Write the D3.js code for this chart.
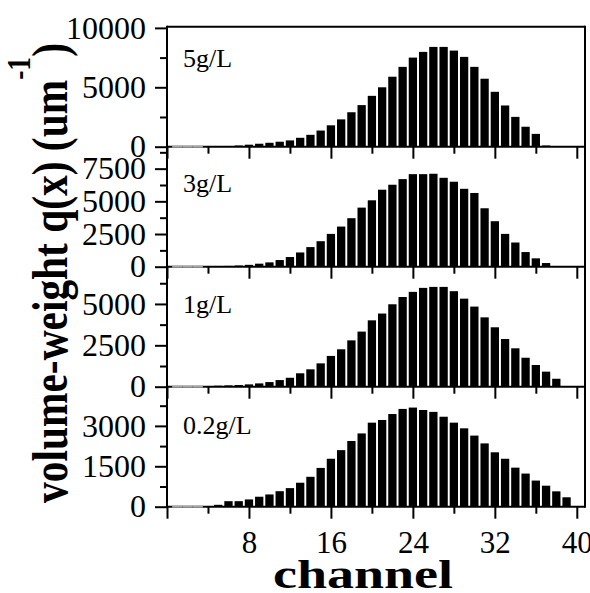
<!DOCTYPE html>
<meta charset="utf-8" />
<script src="https://d3js.org/d3.v7.min.js"></script>
<style>
  body {
    margin: 0;
    background: #fff;
  }
  text {
    font-family: "Liberation Serif", "Times New Roman", serif;
    fill: #000;
  }
</style>
<body>
  <div id="chart"></div>
  <script>
    // channel numbers of the bars (same for every panel)
    var channels = [4, 5, 6, 7, 8, 9, 10, 11, 12, 13, 14, 15, 16, 17, 18, 19, 20,
      21, 22, 23, 24, 25, 26, 27, 28, 29, 30, 31, 32, 33, 34, 35, 36, 37, 38, 39, 40];
    // channels with no data, drawn as an empty gray bar
    var emptyChannels = [1, 2, 3];

    // volume-weight q(x) per channel, one array per concentration
    var conc5 = [20, 50, 60, 100, 170, 250, 330, 420, 530, 750, 1000, 1360, 1800, 2300,
      2900, 3500, 4280, 5000, 5890, 6720, 7500, 7980, 8400, 8400, 8090, 7560, 6720,
      5720, 4620, 3470, 2510, 1680, 1080, 100, 0, 0, 0];
    var conc3 = [20, 40, 60, 90, 140, 230, 330, 510, 740, 1090, 1500, 1950, 2510, 3070,
      3710, 4520, 5080, 5890, 6270, 6700, 7080, 7080, 7110, 6800, 6500, 5960, 5640,
      4470, 3480, 2510, 1850, 1120, 640, 280, 0, 0, 0];
    var conc1 = [30, 60, 80, 100, 140, 200, 280, 400, 540, 810, 1050, 1410, 1860, 2260,
      2800, 3330, 4010, 4420, 4980, 5420, 5730, 5970, 6030, 6030, 5770, 5320, 4840,
      4190, 3590, 2880, 2320, 1750, 1310, 910, 480, 0, 0];
    var conc02 = [10, 70, 205, 205, 270, 370, 455, 575, 690, 890, 1110, 1440, 1780, 2100,
      2440, 2720, 3120, 3220, 3440, 3630, 3680, 3590, 3520, 3340, 3120, 2910, 2640,
      2350, 2020, 1780, 1450, 1230, 970, 780, 570, 350, 0];

    var panelLabels = ["5g/L", "3g/L", "1g/L", "0.2g/L"];
    var panelSeries = [conc5, conc3, conc1, conc02];

    // y axes of the four panels
    var yMax = [10100, 9180, 7250, 4455];
    var yMajor = [[0, 5000, 10000], [0, 2500, 5000, 7500], [0, 2500, 5000], [0, 1500, 3000]];
    var yMinor = [[2500, 7500], [1250, 3750, 6250, 8750], [1250, 3750, 6250], [750, 2250, 3750]];

    // x axis
    var xMax = 40.8;
    var xMajor = [0, 8, 16, 24, 32, 40];
    var xMinor = [4, 12, 20, 28, 36];

    // layout
    var W = 590, H = 593;
    var margin = { top: 26.7, left: 167, right: 5 };
    var panelH = 120;
    var plotW = W - margin.left - margin.right;
    var labelOffset = [40, 45, 46, 47];

    var svg = d3
      .select("#chart")
      .append("svg")
      .attr("width", W)
      .attr("height", H);

    var x = d3.scaleLinear().domain([0, xMax]).range([0, plotW]);
    var step = x(1) - x(0);
    var barW = step * 0.81;

    var root = svg
      .append("g")
      .attr("transform", "translate(" + margin.left + "," + margin.top + ")");

    function styleAxis(g) {
      g.select(".domain").remove();
      g.selectAll(".tick line").attr("stroke", "#000").attr("stroke-width", 2);
      g.selectAll("text")
        .attr("font-family", "Liberation Serif, Times New Roman, serif")
        .attr("font-size", 31)
        .attr("fill", "#000");
    }

    panelSeries.forEach(function (series, i) {
      var g = root
        .append("g")
        .attr("transform", "translate(0," + i * panelH + ")");

      var y = d3.scaleLinear().domain([0, yMax[i]]).range([panelH, 0]);

      // bars
      g.selectAll("rect.bar")
        .data(series)
        .enter()
        .append("rect")
        .attr("class", "bar")
        .attr("x", function (d, k) { return x(channels[k]) - barW / 2; })
        .attr("y", function (d) { return y(d); })
        .attr("width", barW)
        .attr("height", function (d) { return panelH - y(d); })
        .attr("fill", "#000");

      // bottom line of the panel
      g.append("line")
        .attr("x1", 0)
        .attr("x2", plotW)
        .attr("y1", panelH)
        .attr("y2", panelH)
        .attr("stroke", "#000")
        .attr("stroke-width", 2);

      // empty channels at the start
      g.selectAll("rect.empty")
        .data(emptyChannels)
        .enter()
        .append("rect")
        .attr("class", "empty")
        .attr("x", function (c) { return x(c) - step / 2; })
        .attr("y", panelH - 1)
        .attr("width", step)
        .attr("height", 2)
        .attr("fill", "#a8a8a8");

      // y axis, major and minor ticks
      g.append("g")
        .call(
          d3.axisLeft(y)
            .tickValues(yMajor[i])
            .tickSize(12)
            .tickPadding(9)
            .tickFormat(d3.format("d"))
        )
        .call(styleAxis)
        .selectAll(".tick text")
        .attr("font-size", 32);
      g.append("g")
        .call(d3.axisLeft(y).tickValues(yMinor[i]).tickSize(7).tickFormat(""))
        .call(styleAxis);

      // x axis ticks under each panel, labels only at the bottom
      var last = i === panelSeries.length - 1;
      g.append("g")
        .attr("transform", "translate(0," + panelH + ")")
        .call(
          d3.axisBottom(x)
            .tickValues(xMajor)
            .tickSize(12)
            .tickPadding(12)
            .tickFormat(function (d) { return last && d > 0 ? d : ""; })
        )
        .call(styleAxis);
      g.append("g")
        .attr("transform", "translate(0," + panelH + ")")
        .call(d3.axisBottom(x).tickValues(xMinor).tickSize(7).tickFormat(""))
        .call(styleAxis);

      // concentration label
      g.append("text")
        .attr("x", 16)
        .attr("y", labelOffset[i])
        .attr("font-size", 26)
        .text(panelLabels[i]);
    });

    // frame: left, top, right
    var totalH = panelH * panelSeries.length;
    root.append("line")
      .attr("x1", 0).attr("x2", 0)
      .attr("y1", -1).attr("y2", totalH + 1)
      .attr("stroke", "#000").attr("stroke-width", 2);
    root.append("line")
      .attr("x1", 0).attr("x2", plotW)
      .attr("y1", 0).attr("y2", 0)
      .attr("stroke", "#000").attr("stroke-width", 2);
    root.append("line")
      .attr("x1", plotW).attr("x2", plotW)
      .attr("y1", -1).attr("y2", totalH + 1)
      .attr("stroke", "#000").attr("stroke-width", 2);

    // x axis title
    svg.append("text")
      .attr("x", 363)
      .attr("y", 588)
      .attr("text-anchor", "middle")
      .attr("font-size", 40)
      .attr("font-weight", "bold")
      .attr("textLength", 180)
      .attr("lengthAdjust", "spacingAndGlyphs")
      .text("channel");

    // y axis title, rotated, with superscript
    var yt = svg.append("text")
      .attr("text-anchor", "middle")
      .attr("font-size", 42)
      .attr("font-weight", "bold");
    yt.append("tspan").text("volume-weight q(x) (um");
    yt.append("tspan").attr("font-size", 28).attr("dy", -31).text("-1");
    yt.append("tspan").attr("dy", 31).text(")");
    var tw = yt.node().getBBox().width;
    yt.attr(
      "transform",
      "translate(67,273) rotate(-90) scale(" + 460 / tw + ",1.2)"
    );
  </script>
</body>
